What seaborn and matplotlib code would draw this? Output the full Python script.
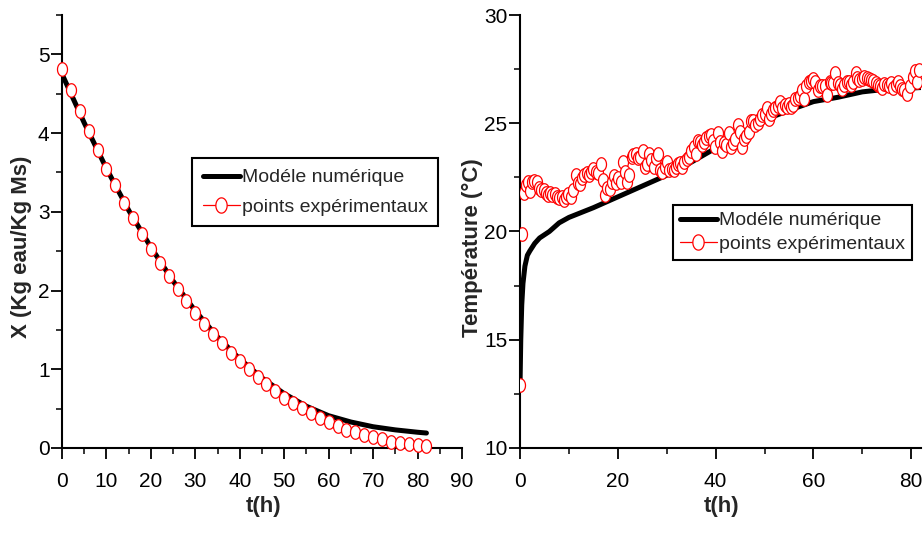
import numpy as np
import pandas as pd
import matplotlib
matplotlib.use('Agg')
import matplotlib.pyplot as plt
import seaborn as sns
from matplotlib.lines import Line2D
from matplotlib.path import Path
from matplotlib.ticker import MultipleLocator

# --- données ---
# séchage : teneur en eau X (Kg eau / Kg Ms)
t_exp_X = [0, 2, 4, 6, 8, 10, 12, 14, 16, 18, 20, 22, 24, 26, 28, 30, 32, 34, 36, 38,
           40, 42, 44, 46, 48, 50, 52, 54, 56, 58, 60, 62, 64, 66, 68, 70, 72, 74, 76, 78,
           80, 82]
X_exp = [4.81, 4.55, 4.28, 4.03, 3.78, 3.55, 3.34, 3.11, 2.92, 2.72, 2.53, 2.35, 2.19,
         2.02, 1.87, 1.72, 1.58, 1.45, 1.33, 1.21, 1.10, 1.00, 0.90, 0.81, 0.72, 0.64,
         0.57, 0.51, 0.44, 0.38, 0.33, 0.28, 0.23, 0.20, 0.17, 0.14, 0.11, 0.08, 0.06,
         0.05, 0.04, 0.03]
t_mod_X = [0, 5, 10, 15, 20, 25, 30, 35, 40, 45, 50, 55, 60, 65, 70, 75, 80, 82]
X_mod = [4.75, 4.13, 3.55, 3.02, 2.55, 2.12, 1.74, 1.41, 1.13, 0.89, 0.69, 0.53, 0.41,
         0.33, 0.27, 0.23, 0.20, 0.19]

# température (°C)
t_mod_T = [0, 0.15, 0.35, 0.6, 1.0, 1.5, 2, 3, 4, 6, 8, 10, 15, 20, 25, 30, 35, 40, 45,
           50, 55, 60, 65, 70, 74, 78, 82]
T_mod = [12.9, 15.0, 16.6, 17.6, 18.4, 18.9, 19.1, 19.45, 19.7, 20.0, 20.4, 20.65, 21.1,
         21.6, 22.1, 22.6, 23.2, 23.85, 24.5, 25.15, 25.6, 26.0, 26.2, 26.45, 26.55, 26.6,
         26.65]
t_exp_T = [0, 0.4, 0.8, 1.2, 1.7, 2.0, 2.4, 2.9, 3.4, 3.9,
           4.3, 4.8, 5.3, 5.7, 6.1, 6.6, 7.1, 7.5, 8.0, 8.5,
           9.0, 9.4, 9.9, 10.4, 10.9, 11.4, 11.8, 12.3, 12.7, 13.1,
           13.7, 14.1, 14.5, 15.0, 15.6, 16.0, 16.5, 16.9, 17.4, 17.8,
           18.3, 18.8, 19.2, 19.7, 20.1, 20.6, 21.0, 21.4, 21.8, 22.3,
           22.8, 23.2, 23.7, 24.2, 24.6, 25.1, 25.5, 25.9, 26.4, 26.8,
           27.3, 27.8, 28.3, 28.7, 29.1, 29.6, 30.0, 30.5, 31.0, 31.4,
           31.9, 32.4, 32.8, 33.2, 33.6, 34.1, 34.6, 35.0, 35.5, 35.9,
           36.3, 36.7, 37.2, 37.6, 38.1, 38.6, 39.0, 39.5, 39.9, 40.4,
           40.8, 41.3, 41.8, 42.2, 42.7, 43.1, 43.5, 44.0, 44.5, 44.9,
           45.4, 45.9, 46.3, 46.8, 47.2, 47.6, 48.1, 48.6, 49.0, 49.5,
           50.0, 50.4, 50.9, 51.3, 51.7, 52.2, 52.7, 53.1, 53.6, 54.1,
           54.5, 55.0, 55.4, 55.8, 56.3, 56.8, 57.2, 57.7, 58.0, 58.5,
           59.0, 59.4, 59.9, 60.4, 60.9, 61.3, 61.8, 62.3, 62.8, 63.3,
           63.6, 64.0, 64.5, 65.0, 65.4, 65.9, 66.3, 66.8, 67.2, 67.7,
           68.1, 68.6, 68.9, 69.4, 70.0, 70.4, 70.9, 71.3, 71.8, 72.2,
           72.7, 73.2, 73.6, 74.1, 74.5, 75.0, 75.4, 75.9, 76.3, 76.8,
           77.3, 77.7, 78.2, 78.6, 79.2, 79.7, 80.3, 80.8, 81.1, 81.6]
T_exp = [12.9, 19.9, 21.8, 22.15, 22.3, 21.85, 22.3, 22.35, 22.3, 22.0,
         21.9, 21.9, 21.8, 21.7, 21.8, 21.7, 21.75, 21.6, 21.55, 21.6,
         21.45, 21.6, 21.75, 21.6, 21.9, 22.6, 22.25, 22.2, 22.45, 22.6,
         22.7, 22.6, 22.75, 22.9, 22.75, 22.7, 23.1, 22.4, 21.7, 22.0,
         21.95, 22.3, 22.55, 22.25, 22.45, 22.3, 23.2, 22.75, 22.3, 22.6,
         23.45, 23.55, 23.6, 23.4, 23.45, 23.7, 23.0, 23.1, 23.6, 23.3,
         23.0, 23.4, 23.6, 22.85, 22.75, 23.0, 23.2, 22.85, 22.9, 22.85,
         23.0, 23.1, 23.15, 23.0, 23.2, 23.35, 23.45, 23.7, 23.9, 23.6,
         24.2, 24.15, 24.0, 24.15, 24.3, 24.4, 24.45, 24.2, 23.9, 24.55,
         24.15, 23.7, 24.1, 24.0, 24.55, 23.9, 24.1, 24.25, 24.9, 24.6,
         23.9, 24.25, 24.4, 24.6, 25.1, 25.1, 24.9, 25.0, 25.2, 25.4,
         25.45, 25.7, 25.2, 25.45, 25.6, 25.7, 25.8, 26.0, 25.7, 25.85,
         25.75, 25.9, 25.75, 25.85, 26.1, 26.15, 26.25, 26.55, 26.1, 26.7,
         26.9, 26.95, 27.05, 26.9, 26.55, 26.7, 26.7, 26.7, 26.3, 26.9,
         26.85, 26.85, 27.3, 26.85, 26.75, 26.6, 26.75, 26.9, 26.9, 26.75,
         26.9, 27.3, 27.1, 27.0, 27.05, 27.15, 27.1, 27.05, 27.0, 26.95,
         26.85, 26.75, 26.7, 26.65, 26.8, 26.75, 26.7, 26.85, 26.65, 26.75,
         26.9, 26.7, 26.6, 26.55, 26.35, 26.7, 27.15, 27.4, 26.9, 27.45]

lbl_mod = 'Modéle numérique'
lbl_exp = 'points expérimentaux'

# --- thème ---
sns.set_theme(style='ticks')
plt.rcParams['font.family'] = ['Liberation Sans', 'DejaVu Sans']
plt.rcParams['axes.linewidth'] = 1.5

# marqueur ovale façon Origin
th = np.linspace(0, 2 * np.pi, 41)
ovale = Path(np.column_stack([0.74 * np.cos(th), np.sin(th)]), closed=True)

fig = plt.figure(figsize=(9.24, 5.36), dpi=100)
fig.patch.set_facecolor('white')
ax1 = fig.add_axes([0.0671, 0.1642, 0.4329, 0.8078])
ax2 = fig.add_axes([0.5628, 0.1642, 0.434, 0.8078])

# --- graphe de gauche : X ---
sns.lineplot(x=t_mod_X, y=X_mod, ax=ax1, color='black', lw=3.6, zorder=2)
sns.scatterplot(x=t_exp_X, y=X_exp, ax=ax1, marker=ovale, s=95, facecolor='white',
                edgecolor='red', linewidth=0.9, zorder=3, clip_on=False)
ax1.set_xlim(0, 90)
ax1.set_ylim(0, 5.5)
ax1.xaxis.set_major_locator(MultipleLocator(10))
ax1.xaxis.set_minor_locator(MultipleLocator(5))
ax1.yaxis.set_major_locator(MultipleLocator(1))
ax1.yaxis.set_minor_locator(MultipleLocator(0.5))
ax1.set_ylabel('X (Kg eau/Kg Ms)', fontsize=16, fontweight='bold')
ax1.yaxis.set_label_coords(-0.075, 0.464)

# --- graphe de droite : température ---
sns.lineplot(x=t_mod_T, y=T_mod, ax=ax2, color='black', lw=3.6, zorder=2)
sns.scatterplot(x=t_exp_T, y=T_exp, ax=ax2, marker=ovale, s=95, facecolor='white',
                edgecolor='red', linewidth=0.9, zorder=3)
ax2.set_xlim(0, 82)
ax2.set_ylim(10, 30)
ax2.xaxis.set_major_locator(MultipleLocator(20))
ax2.xaxis.set_minor_locator(MultipleLocator(10))
ax2.yaxis.set_major_locator(MultipleLocator(5))
ax2.yaxis.set_minor_locator(MultipleLocator(2.5))
ax2.set_ylabel('Température (°C)', fontsize=16, fontweight='bold')
ax2.yaxis.set_label_coords(-0.092, 0.462)

poignees = [Line2D([], [], color='black', lw=3.6),
            Line2D([], [], color='red', lw=0.9, marker=ovale, markersize=11,
                   markerfacecolor='white', markeredgecolor='red', markeredgewidth=0.9)]

for ax, ancre, esp, bpad in [(ax1, (0.2078, 0.7052), 0.6, 0.55),
                             (ax2, (0.7284, 0.6175), 0.3, 0.35)]:
    sns.despine(ax=ax)
    ax.set_facecolor('white')
    for s in ['left', 'bottom']:
        ax.spines[s].set_color('black')
        ax.spines[s].set_linewidth(1.5)
    ax.tick_params(which='major', direction='out', length=8, width=1.3, colors='black',
                   labelsize=15, labelfontfamily='Liberation Sans')
    ax.tick_params(which='minor', direction='out', length=4, width=1.1, colors='black')
    ax.tick_params(axis='x', which='major', pad=9)
    ax.tick_params(axis='y', which='major', pad=1)
    ax.set_xlabel('t(h)', fontsize=16, fontweight='bold')
    ax.xaxis.set_label_coords(0.503, -0.112)
    leg = ax.legend(poignees, [lbl_mod, lbl_exp], loc='upper left',
                    bbox_to_anchor=ancre, bbox_transform=fig.transFigure,
                    fontsize=14, frameon=True, fancybox=False, framealpha=1,
                    handlelength=1.9, handletextpad=0.1, borderpad=bpad,
                    labelspacing=esp, borderaxespad=0)
    leg.get_frame().set_edgecolor('black')
    leg.get_frame().set_linewidth(1.5)

plt.savefig('out.png', dpi=100, facecolor='white')
